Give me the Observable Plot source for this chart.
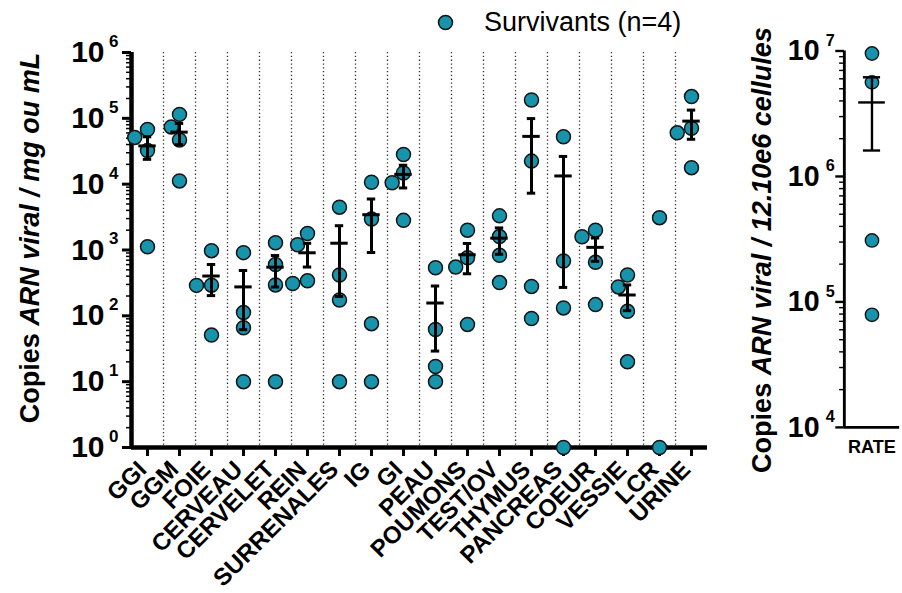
<!DOCTYPE html>
<html><head><meta charset="utf-8">
<script src="https://cdn.jsdelivr.net/npm/d3@7"></script>
<script src="https://cdn.jsdelivr.net/npm/@observablehq/plot@0.6"></script>
<style>
html,body{margin:0;padding:0;background:#fff;overflow:hidden;}
#wrap{position:relative;width:902px;height:593px;overflow:hidden;font-family:"Liberation Sans",Arial,sans-serif;color:#000;}
.panel{position:absolute;top:0;}
.ylab{position:absolute;white-space:nowrap;font-weight:bold;font-size:27px;transform:translate(-50%,-50%) rotate(-90deg);line-height:1;}
.ylab i{font-style:italic;}
#legend{position:absolute;left:437px;top:9px;display:flex;align-items:center;font-size:27px;white-space:nowrap;line-height:1;}
</style></head>
<body><div id="wrap">
<div id="left" class="panel" style="left:0"></div>
<div id="right" class="panel" style="left:740px"></div>
<div class="ylab" style="left:30px;top:238px">Copies <i>ARN viral / mg ou mL</i></div>
<div class="ylab" style="left:762px;top:250px">Copies <i>ARN viral / 12.10e6 cellules</i></div>
<div id="legend"><svg width="17" height="17"><circle cx="8.5" cy="8.5" r="7" fill="#1793ac" stroke="#111" stroke-width="1.5"/></svg><span id="legtext" style="margin-left:30px"></span></div>
</div>
<script>
// ---- data ----
const organs = ["GGI","GGM","FOIE","CERVEAU","CERVELET","REIN","SURRENALES","IG","GI","PEAU","POUMONS","TEST/OV","THYMUS","PANCREAS","COEUR","VESSIE","LCR","URINE"];
const survivorA = [67600,114800,977,912,1290,1780,4470,10700,28200,537,2000,3300,190000,52500,2000,417,3100,214000];
const survivorB = [51300,74100,292,112,600,1200,417,2950,14800,62,760,1600,22400,680,1590,275,1,70800];
const survivorC = [32400,46800,290,66,295,340,174,76,10500,17,550,830,280,132,650,117,null,60300];
const survivorD = [1120,11200,51,10,10,310,10,10,2820,10,74,320,91,1,148,20,null,17800];
const rateLabel = ["RATE"];
const rateValues = [9550000,5620000,309000,79000];
const leftDecades = [1,10,100,1000,10000,100000,1000000];
const rightDecades = [10000,100000,1000000,10000000];
const legendLabel = "Survivants (n=4)";

const FILL = "#1793ac", EDGE = "#151515";
document.getElementById("legtext").textContent = legendLabel;

const minorOf = decs => decs.slice(0,-1).flatMap(d => [2,3,4,5,6,7,8,9].map(k => k*d));

const rows = organs.flatMap((o,i) => [survivorA[i],survivorB[i],survivorC[i],survivorD[i]]
  .filter(v => v != null).map(v => ({cat:o, value:v})));
const rateRows = rateValues.map(v => ({cat: rateLabel[0], value: v}));

function summarize(data, cats){
  return cats.map(c => {
    const v = data.filter(r => r.cat === c).map(r => r.value);
    if (v.length < 4) return null;
    const m = d3.mean(v), se = d3.deviation(v)/Math.sqrt(v.length);
    return {cat:c, mean:m, lo:m-se, hi:m+se};
  }).filter(Boolean);
}
const stats = summarize(rows, organs);
const rateStats = summarize(rateRows, rateLabel);

const style = {fontFamily:'"Liberation Sans", Arial, sans-serif', color:"#000", background:"transparent", overflow:"visible"};

function yAxisMarks(decs, pad10, padExp, lw){
  return [
    Plot.axisY(minorOf(decs), {tickSize:5, strokeWidth:1.5, tickFormat:() => "", label:null}),
    Plot.axisY(decs, {tickSize:9, strokeWidth:lw, tickFormat:() => "", label:null}),
    Plot.axisY(decs, {tickSize:0, tickPadding:pad10, tickFormat:() => "10", fontSize:30, fontWeight:"bold", label:null}),
    Plot.axisY(decs, {tickSize:0, tickPadding:padExp, tickFormat:d => String(Math.round(Math.log10(d))), fontSize:17, fontWeight:"bold", dy:-11, label:null})
  ];
}
function barMarks(st, meanInset, capInset, lw){
  return [
    Plot.ruleX(st, {fx:"cat", x:() => 0, y1:"lo", y2:"hi", strokeWidth:lw}),
    Plot.tickY(st, {fx:"cat", y:"mean", insetLeft:meanInset, insetRight:meanInset, strokeWidth:lw}),
    Plot.tickY(st, {fx:"cat", y:"hi", insetLeft:capInset, insetRight:capInset, strokeWidth:lw}),
    Plot.tickY(st, {fx:"cat", y:"lo", insetLeft:capInset, insetRight:capInset, strokeWidth:lw})
  ];
}

const left = Plot.plot({
  width:730, height:593, marginLeft:124, marginRight:17, marginTop:52, marginBottom:146,
  fx:{domain:organs, padding:0, label:null},
  x:{domain:[-0.5,0.5], axis:null},
  y:{type:"log", domain:[1,1e6], label:null},
  style,
  marks:[
    Plot.ruleX(organs.slice(1), {fx:d => d, x:() => -0.5, stroke:"#333", strokeWidth:1.3, strokeDasharray:"1.3,2.5"}),
    ...yAxisMarks(leftDecades, 27, 13, 3),
    Plot.ruleX([organs[0]], {fx:d => d, x:() => -0.5, strokeWidth:4.5}),
    Plot.ruleY([1], {strokeWidth:4.5}),
    Plot.axisFx({anchor:"bottom", tickSize:9, strokeWidth:3, tickFormat:() => "", label:null}),
    Plot.axisFx({anchor:"bottom", tickSize:0, tickRotate:-45, fontSize:24, fontWeight:"bold", tickPadding:18, dx:-5, label:null}),
    Plot.dot(rows, Plot.dodgeX("middle", {fx:"cat", y:"value", r:7, fill:FILL, stroke:EDGE, strokeWidth:1.5})),
    ...barMarks(stats, 7.3, 11.8, 3)
  ]
});
document.getElementById("left").appendChild(left);

const right = Plot.plot({
  width:170, height:593, marginLeft:109, marginRight:3, marginTop:53, marginBottom:145,
  fx:{domain:rateLabel, padding:0, label:null},
  x:{domain:[-0.5,0.5], axis:null},
  y:{type:"log", domain:[1e4,1e7], label:null},
  style,
  marks:[
    ...yAxisMarks(rightDecades, 26, 10, 2.5),
    Plot.ruleX(rateLabel, {fx:d => d, x:() => -0.5, strokeWidth:3}),
    Plot.ruleY([1e4], {strokeWidth:3}),
    Plot.axisFx({anchor:"bottom", tickSize:0, tickPadding:13, fontSize:19, fontWeight:"bold", label:null}),
    Plot.dot(rateRows, Plot.dodgeX("middle", {fx:"cat", y:"value", r:7, fill:FILL, stroke:EDGE, strokeWidth:1.5})),
    ...barMarks(rateStats, 15, 20, 2.5)
  ]
});
document.getElementById("right").appendChild(right);
</script></body></html>
